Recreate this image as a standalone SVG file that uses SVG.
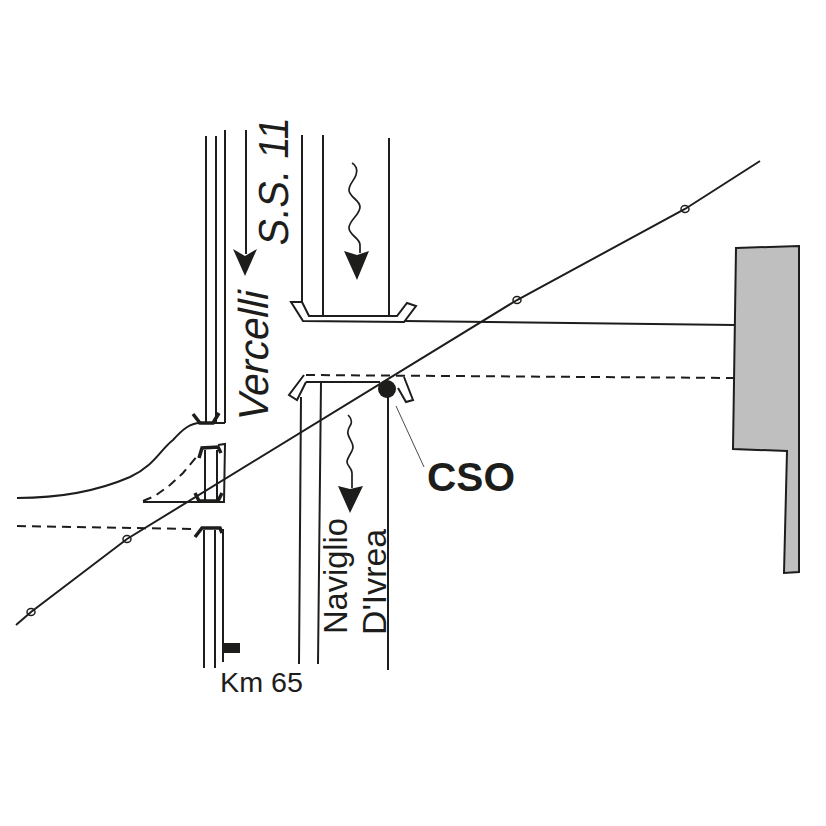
<svg xmlns="http://www.w3.org/2000/svg" width="826" height="826" viewBox="0 0 826 826">
<style>
.l{fill:none;stroke:#1d1d1b;stroke-width:2}
.h{fill:none;stroke:#1d1d1b;stroke-width:1.7}
.f{fill:none;stroke:#1d1d1b;stroke-width:.8}
.d{fill:none;stroke:#1d1d1b;stroke-width:2;stroke-dasharray:9 6}
.b{fill:none;stroke:#1d1d1b;stroke-width:3.5}
.a{fill:#1d1d1b}
.t{font-family:"Liberation Sans",Arial,sans-serif;fill:#1d1d1b}
.s{fill:none;stroke:#1d1d1b;stroke-width:1.5}
</style>
<rect width="826" height="826" fill="#fff"/>
<g id="connectors">
<path class="l" d="M206 136V423M216 136V423M225 130V423"/>
<path class="l" d="M204 530V668M215 530V668M223 529V662"/>
<path class="l" d="M205 450V500M217 450V500M218 445L225 444L224 502H143"/>
<path class="l" d="M246 130V254"/>
<path class="l" d="M302 135V302M323 135V316M389 138V316"/>
<path class="l" d="M301 397L299 664M321 382L318 664M388 395V670"/>
<path class="l" d="M291 302H302L309 316H397L407 303L416 306L404 322L303 321Z"/>
<path class="l" d="M404 321L735 325"/>
<path class="l" d="M306 382H380M304 375L289 395L297 400L306 382M404 377L413 400L406 402L398 388"/>
<path class="d" d="M306 375L735 378"/>
<path class="l" d="M17 498C60 498 100 490 130 477C155 465 160 450 173 440C182 430 190 423 200 423H225"/>
<path class="d" d="M143 501L155 496L170 485L183 473L198 455"/>
<path class="d" d="M17 526L193 529"/>
<path class="l" d="M16 625L31 612L127 539L517 300L685 209L760 161"/>
<path class="f" d="M396 406L424 467"/>
<path class="b" d="M193 414L200 423H213L219 413"/>
<path class="b" d="M199 458L202 448L218 447L221 453"/>
<path class="b" d="M195 493L199 501H218L222 493"/>
<path class="b" d="M195 537L202 528H220L222 533"/>
<path class="h" d="M352 163C356 165 358 170 356 175C354 181 349 184 349 190C349 197 360 200 360 207C360 215 349 220 349 228C349 235 360 238 360 245V253"/>
<path class="h" d="M348 415C351 418 352 421 351 424C349 428 347 430 348 434C349 439 353 442 353 447C353 452 347 457 347 462C347 466 352 468 352 473V488"/>
</g>
<g id="arrows">
<polygon class="a" points="233,249 245,256 257,249 245,276"/>
<polygon class="a" points="344,251 357,255 369,251 357,280"/>
<polygon class="a" points="338,486 350,489 363,486 350,513"/>
</g>
<g id="crossings">
<ellipse class="s" cx="31" cy="612" rx="4" ry="3.5"/>
<ellipse class="s" cx="127" cy="539" rx="4" ry="3.5"/>
<ellipse class="s" cx="517" cy="300" rx="4" ry="3.5"/>
<ellipse class="s" cx="685" cy="209" rx="4" ry="3.5"/>
</g>
<g id="building">
<polygon points="736,248 799,246 799,572 784,573 787,451 733,449" fill="#bfbfbf" stroke="#1d1d1b" stroke-width="2"/>
</g>
<g id="cso">
<circle class="a" cx="387" cy="389" r="9"/>
<text class="t" x="427" y="491" font-size="41" font-weight="bold" textLength="88" lengthAdjust="spacingAndGlyphs">CSO</text>
</g>
<g id="km">
<rect class="a" x="222" y="643" width="18" height="10"/>
<text class="t" x="220" y="692" font-size="28" textLength="83" lengthAdjust="spacingAndGlyphs">Km 65</text>
</g>
<g id="labels">
<text class="t" transform="translate(288 247) rotate(-90) skewX(-8)" font-size="42" textLength="128" lengthAdjust="spacingAndGlyphs">S.S. 11</text>
<text class="t" transform="translate(268 423) rotate(-90) skewX(-12)" font-size="42" textLength="130" lengthAdjust="spacingAndGlyphs">Vercelli</text>
<text class="t" transform="translate(347 634) rotate(-90)" font-size="33" textLength="116" lengthAdjust="spacingAndGlyphs">Naviglio</text>
<text class="t" transform="translate(386 635) rotate(-90)" font-size="33" textLength="106" lengthAdjust="spacingAndGlyphs">D'Ivrea</text>
</g>
</svg>
